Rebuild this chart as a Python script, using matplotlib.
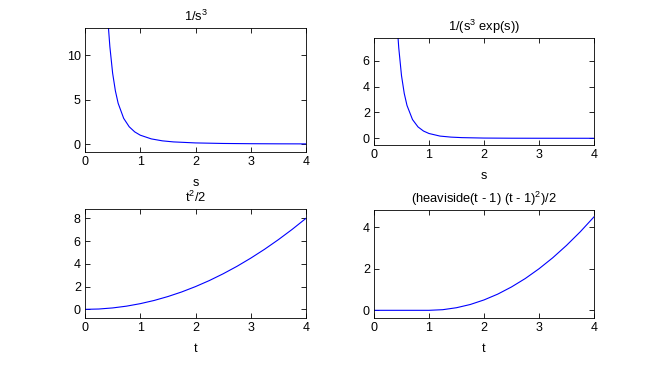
import matplotlib
matplotlib.use("Agg")
import matplotlib.pyplot as plt

plt.rcParams['font.family'] = ['Liberation Sans', 'DejaVu Sans']
plt.rcParams['mathtext.fontset'] = 'custom'
plt.rcParams['mathtext.rm'] = 'Liberation Sans'
plt.rcParams['mathtext.it'] = 'Liberation Sans'
plt.rcParams['mathtext.default'] = 'regular'

# ---- data ----
s1 = [0.40, 0.42, 0.45, 0.50, 0.55, 0.60, 0.70, 0.80, 0.90, 1.00, 1.20, 1.40, 1.60, 2.00, 2.50, 3.00, 3.50, 4.00]
y1 = [15.6, 13.5, 11.0, 8.0, 6.0, 4.6, 2.9, 1.95, 1.37, 1.0, 0.58, 0.36, 0.24, 0.125, 0.064, 0.037, 0.023, 0.016]

s2 = [0.40, 0.43, 0.45, 0.50, 0.55, 0.60, 0.70, 0.80, 0.90, 1.00, 1.20, 1.40, 1.60, 2.00, 2.50, 3.00, 4.00]
y2 = [10.5, 8.2, 7.0, 4.85, 3.47, 2.54, 1.45, 0.88, 0.56, 0.37, 0.17, 0.09, 0.05, 0.017, 0.005, 0.002, 0.0003]

t3 = [0, 0.25, 0.5, 0.75, 1.0, 1.25, 1.5, 1.75, 2.0, 2.25, 2.5, 2.75, 3.0, 3.25, 3.5, 3.75, 4.0]
y3 = [0, 0.03, 0.125, 0.28, 0.5, 0.78, 1.125, 1.53, 2.0, 2.53, 3.125, 3.78, 4.5, 5.28, 6.125, 7.03, 8.0]

t4 = [0, 0.5, 1.0, 1.25, 1.5, 1.75, 2.0, 2.25, 2.5, 2.75, 3.0, 3.25, 3.5, 3.75, 4.0]
y4 = [0, 0, 0, 0.03, 0.125, 0.28, 0.5, 0.78, 1.125, 1.53, 2.0, 2.53, 3.125, 3.78, 4.5]

titles = [r'1/s$^{3}$', r'1/(s$^{3}$ exp(s))', r't$^{2}$/2', r'(heaviside(t - 1) (t - 1)$^{2}$)/2']
xlabels = ['s', 's', 't', 't']
xticks = [0, 1, 2, 3, 4]
yticks = [[0, 5, 10], [0, 2, 4, 6], [0, 2, 4, 6, 8], [0, 2, 4]]
ylims = [(-0.9, 13.1), (-0.52, 7.76), (-0.76, 8.82), (-0.37, 4.83)]

W, H = 656, 365
fig = plt.figure(figsize=(W / 100, H / 100), dpi=100)
fig.patch.set_facecolor('white')

# axes boxes in pixels: left, top, right, bottom
boxes = [(85, 28, 306, 152), (374, 38, 594, 145), (85, 209, 306, 318), (374, 210, 594, 318)]
series = [(s1, y1), (s2, y2), (t3, y3), (t4, y4)]

for i, (l, t, r, b) in enumerate(boxes):
    ax = fig.add_axes([l / W, (H - b) / H, (r - l) / W, (b - t) / H])
    x, y = series[i]
    ax.plot(x, y, color='#0000ff', lw=0.8)
    ax.set_xlim(0, 4)
    ax.set_ylim(*ylims[i])
    ax.set_xticks(xticks)
    ax.set_yticks(yticks[i])
    ax.tick_params(direction='in', top=True, right=True, length=3.5, width=0.6,
                   labelsize=9, pad=3)
    for sp in ax.spines.values():
        sp.set_linewidth(0.6)
    ax.set_title(titles[i], fontsize=9.3, pad=5)
    ax.set_xlabel(xlabels[i], fontsize=9, labelpad=6.5)

fig.savefig('out.png', dpi=100)
